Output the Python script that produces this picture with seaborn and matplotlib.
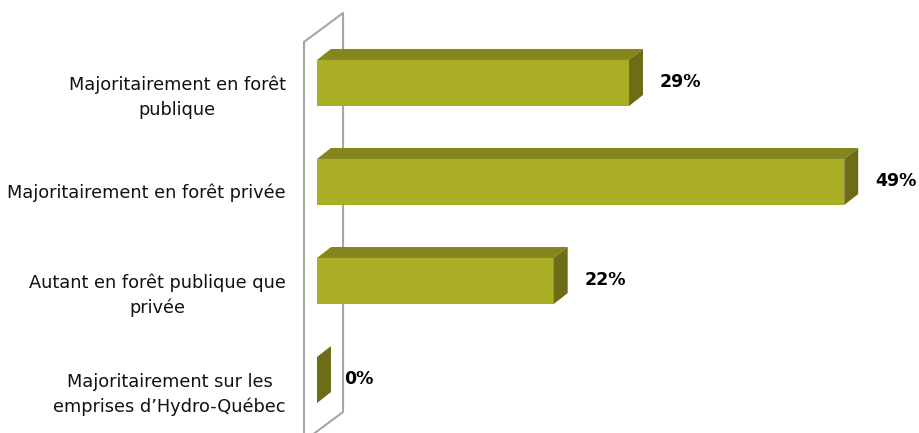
import numpy as np
import pandas as pd
import matplotlib
matplotlib.use('Agg')
import matplotlib.pyplot as plt
import seaborn as sns
from matplotlib.patches import Polygon
from matplotlib.transforms import ScaledTranslation

# -------------data------------------------------------------------------------
categories = ['Majoritairement en forêt\npublique',
              'Majoritairement en forêt privée',
              'Autant en forêt publique que\nprivée',
              'Majoritairement sur les\nemprises d\u2019Hydro-Québec']
values = [29, 49, 22, 0]
value_labels = ['29%', '49%', '22%', '0%']

df = pd.DataFrame({'cat': categories, 'val': values})

# -------------style-----------------------------------------------------------
front = '#AAAE24'
top = '#85861E'
side = '#6C6D16'
wall = '#A6A6A6'

sns.set_style('white')
plt.rcParams['font.family'] = ['DejaVu Sans']

fig = plt.figure(figsize=(9.19, 4.33), dpi=100)
ax = fig.add_axes([290 / 919, 0, 629 / 919, 1])

sns.barplot(data=df, x='val', y='cat', orient='h', color=front,
            width=0.465, saturation=1, ax=ax, zorder=3)

ax.set_xlim(-2.51, 55.95)
ax.set_ylim(3.535, -0.838)

# 3d depth of the bars (data units)
DX, DY = 1.3, 0.111
for p in ax.patches[:len(values)]:
    p.set_edgecolor('none')
    x0, y0, w, h = p.get_x(), p.get_y(), p.get_width(), p.get_height()
    ax.add_patch(Polygon([(x0, y0), (x0 + DX, y0 - DY), (x0 + w + DX, y0 - DY), (x0 + w, y0)],
                         closed=True, facecolor=top, edgecolor='none', zorder=3))
    ax.add_patch(Polygon([(x0 + w, y0), (x0 + w + DX, y0 - DY), (x0 + w + DX, y0 + h - DY), (x0 + w, y0 + h)],
                         closed=True, facecolor=side, edgecolor='none', zorder=3))

# wall behind the bars
wx0, wx1 = -1.21, 2.42
ax.plot([wx0, wx0, wx1, wx1, wx0], [3.7, -0.414, -0.707, 3.323, 3.616],
        color=wall, lw=1.5, zorder=1, clip_on=True)

# value labels
for i, (v, t) in enumerate(zip(values, value_labels)):
    ax.annotate(t, (v, i), xytext=(27 if v == 0 else 31, 1), textcoords='offset pixels',
                ha='left', va='center', fontsize=12.5, fontweight='bold', color='black')

ax.set_xlabel('')
ax.set_ylabel('')
ax.set_xticks([])
ax.tick_params(axis='y', length=0, pad=3, labelsize=12.8, labelcolor='#111111')
for lbl in ax.get_yticklabels():
    lbl.set_multialignment('center')
    lbl.set_linespacing(1.45)
    lbl.set_transform(lbl.get_transform() + ScaledTranslation(0, -9 / 100, fig.dpi_scale_trans))
sns.despine(ax=ax, left=True, bottom=True)

plt.savefig('out.png', dpi=100)
